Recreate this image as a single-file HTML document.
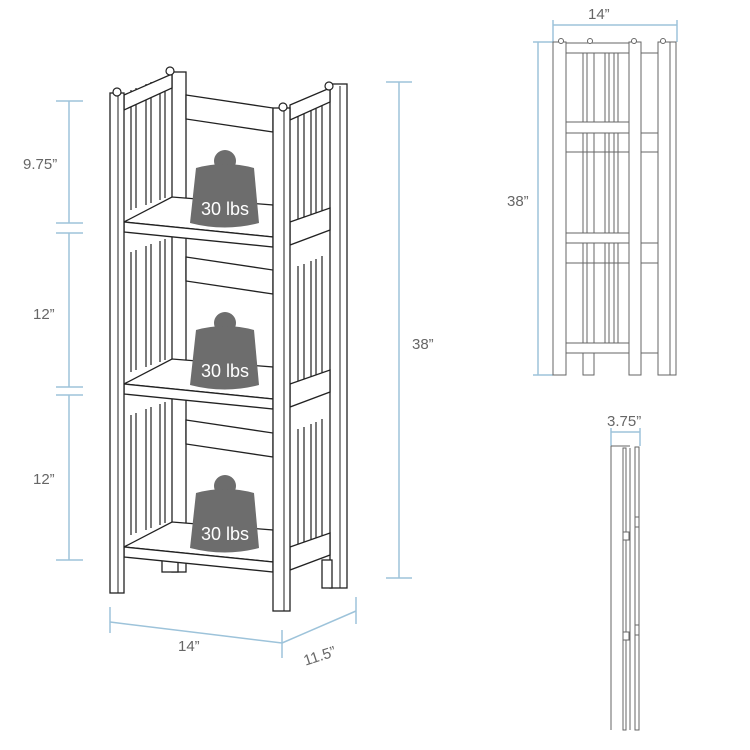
<!DOCTYPE html>
<html><head><meta charset="utf-8"><style>
html,body{margin:0;padding:0;background:#fff;}
svg{display:block;}
text{font-family:"Liberation Sans",sans-serif;}
</style></head><body>
<svg width="750" height="750" viewBox="0 0 750 750" xmlns="http://www.w3.org/2000/svg">
<defs>
<g id="shelf">
  <polygon points="186,95 273,108 273,132 186,119" fill="#fff" stroke="#222" stroke-width="1.3"/>
  <g stroke="#222" stroke-width="1.2" fill="none">
    <line x1="131" y1="90" x2="131" y2="210"/><line x1="136" y1="88" x2="136" y2="208"/>
    <line x1="146" y1="84" x2="146" y2="205"/><line x1="151" y1="82" x2="151" y2="203"/>
    <line x1="160" y1="79" x2="160" y2="200"/><line x1="165" y1="77" x2="165" y2="198"/>
    <line x1="298" y1="104" x2="298" y2="222"/><line x1="304" y1="102" x2="304" y2="220"/>
    <line x1="311" y1="99" x2="311" y2="217"/><line x1="316" y1="97" x2="316" y2="215"/>
    <line x1="322" y1="94" x2="322" y2="212"/>
  </g>
  <polygon points="124,222 172,197 273,205 273,237" fill="#fff" stroke="#222" stroke-width="1.3"/>
  <polygon points="124,222 273,237 273,247 124,232" fill="#fff" stroke="#222" stroke-width="1.3"/>
  <polygon points="290,222 330,208 330,230 290,245" fill="#fff" stroke="#222" stroke-width="1.3"/>
  <circle cx="225" cy="161" r="11" fill="#6d6d6d"/>
  <path d="M196,168 Q225,160 254,168 L259,223 Q225,232 190,223 Z" fill="#6d6d6d"/>
  <text x="225" y="215" font-size="18" fill="#fff" text-anchor="middle">30 lbs</text>
</g>
</defs>

<rect x="172" y="72" width="14" height="500" fill="#fff" stroke="#222" stroke-width="1.3"/>
<rect x="162" y="560" width="16" height="12" fill="#fff" stroke="#222" stroke-width="1.3"/>
<rect x="330" y="84" width="17" height="504" fill="#fff" stroke="#222" stroke-width="1.3"/>
<line x1="340" y1="86" x2="340" y2="588" stroke="#222" stroke-width="1"/>
<rect x="322" y="560" width="10" height="28" fill="#fff" stroke="#222" stroke-width="1.3"/>

<use href="#shelf"/>
<use href="#shelf" transform="translate(0,162)"/>
<use href="#shelf" transform="translate(0,325)"/>

<polygon points="124,95 172,74 172,88 124,110" fill="#fff" stroke="#222" stroke-width="1.3"/>
<polygon points="290,105 330,88 330,102 290,120" fill="#fff" stroke="#222" stroke-width="1.3"/>

<rect x="110" y="93" width="14" height="500" fill="#fff" stroke="#222" stroke-width="1.3"/>
<line x1="118" y1="95" x2="118" y2="593" stroke="#222" stroke-width="1"/>
<rect x="273" y="108" width="17" height="503" fill="#fff" stroke="#222" stroke-width="1.3"/>
<line x1="284" y1="110" x2="284" y2="611" stroke="#222" stroke-width="1"/>
<g fill="#fff" stroke="#222" stroke-width="1.2">
<circle cx="117" cy="92" r="4"/><circle cx="170" cy="71" r="4"/><circle cx="283" cy="107" r="4"/><circle cx="329" cy="86" r="4"/>
</g>

<g stroke="#9dc3da" stroke-width="1.5" fill="none">
<line x1="69" y1="101" x2="69" y2="223"/><line x1="56" y1="101" x2="83" y2="101"/><line x1="56" y1="223" x2="83" y2="223"/>
<line x1="69" y1="233" x2="69" y2="387"/><line x1="56" y1="233" x2="83" y2="233"/><line x1="56" y1="387" x2="83" y2="387"/>
<line x1="69" y1="395" x2="69" y2="560"/><line x1="56" y1="395" x2="83" y2="395"/><line x1="56" y1="560" x2="83" y2="560"/>
<line x1="399" y1="82" x2="399" y2="578"/><line x1="386" y1="82" x2="412" y2="82"/><line x1="386" y1="578" x2="412" y2="578"/>
<line x1="110" y1="607" x2="110" y2="633"/><line x1="110" y1="622" x2="282" y2="643"/>
<line x1="282" y1="630" x2="282" y2="658"/><line x1="282" y1="643" x2="356" y2="611"/><line x1="356" y1="597" x2="356" y2="624"/>
<line x1="553" y1="25" x2="677" y2="25"/><line x1="553" y1="20" x2="553" y2="42"/><line x1="677" y1="20" x2="677" y2="42"/>
<line x1="538" y1="42" x2="538" y2="375"/><line x1="533" y1="42" x2="553" y2="42"/><line x1="533" y1="375" x2="553" y2="375"/>
<line x1="611" y1="432" x2="640" y2="432"/><line x1="611" y1="428" x2="611" y2="446"/><line x1="640" y1="428" x2="640" y2="446"/>
</g>
<g fill="#666" font-size="15">
<text x="23" y="169">9.75”</text>
<text x="33" y="319">12”</text>
<text x="33" y="484">12”</text>
<text x="412" y="349">38”</text>
<text x="178" y="651">14”</text>
<text x="302" y="660" transform="rotate(-18 322 652)">11.5”</text>
<text x="588" y="19">14”</text>
<text x="507" y="206">38”</text>
<text x="607" y="426">3.75”</text>
</g>

<g fill="#fff" stroke="#666" stroke-width="1">
<rect x="583" y="53" width="11" height="322"/><line x1="587" y1="53" x2="587" y2="343"/>
<rect x="605" y="53" width="13" height="290"/><line x1="609" y1="53" x2="609" y2="343"/><line x1="614" y1="53" x2="614" y2="343"/>
<line x1="566" y1="152" x2="658" y2="152"/><line x1="566" y1="263" x2="658" y2="263"/>
<rect x="566" y="43" width="73" height="10"/>
<rect x="566" y="122" width="73" height="11"/>
<rect x="566" y="233" width="73" height="10"/>
<rect x="566" y="343" width="73" height="10"/>
<line x1="641" y1="53" x2="658" y2="53"/><line x1="641" y1="133" x2="658" y2="133"/><line x1="641" y1="243" x2="658" y2="243"/><line x1="641" y1="353" x2="658" y2="353"/>
<rect x="553" y="42" width="13" height="333"/>
<rect x="629" y="42" width="12" height="333"/>
<rect x="658" y="42" width="12" height="333"/>
<rect x="670" y="42" width="6" height="333"/>
<circle cx="561" cy="41" r="2.5"/><circle cx="590" cy="41" r="2.5"/><circle cx="634" cy="41" r="2.5"/><circle cx="663" cy="41" r="2.5"/>
</g>

<g fill="#fff" stroke="#666" stroke-width="1">
<line x1="611" y1="446" x2="611" y2="730"/>
<line x1="611" y1="446" x2="630" y2="446"/>
<rect x="623" y="448" width="3" height="282"/>
<line x1="630" y1="448" x2="630" y2="730"/>
<rect x="635" y="447" width="4" height="283"/>
<rect x="623" y="532" width="6" height="8"/><rect x="623" y="632" width="6" height="8"/>
<rect x="635" y="517" width="4" height="10"/><rect x="635" y="625" width="4" height="10"/>
</g>
</svg>
</body></html>
